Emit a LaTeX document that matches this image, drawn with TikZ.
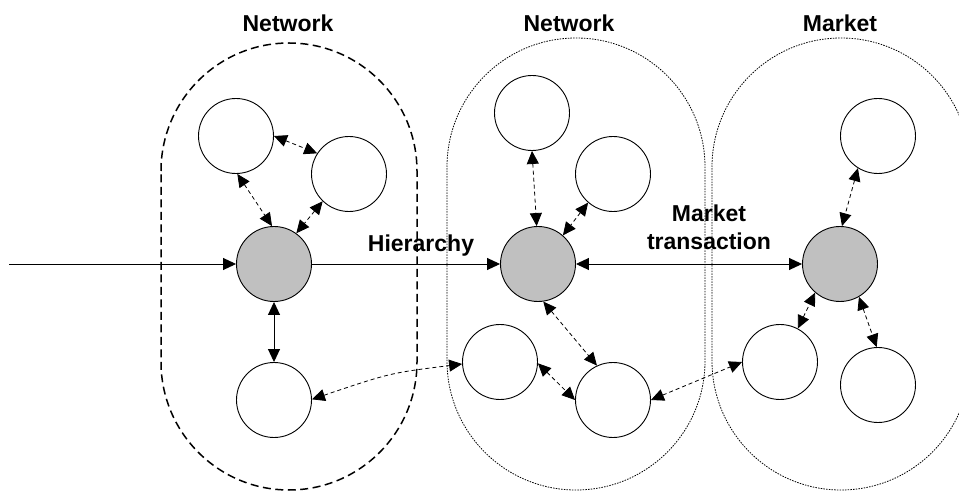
\documentclass[tikz,border=0pt]{standalone}
\usepackage{fontspec}
\setmainfont{Liberation Sans}
\usetikzlibrary{arrows.meta}
\definecolor{hubgray}{RGB}{192,192,192}
\begin{document}
\begin{tikzpicture}[x=1pt,y=-1pt,
  actor/.style={circle, draw, line width=0.9pt, minimum size=75pt, inner sep=0pt, fill=white},
  hub/.style={actor, fill=hubgray},
  link/.style={line width=0.9pt, -{Triangle[length=13pt,width=12pt]}},
  duallink/.style={line width=0.9pt, {Triangle[length=13pt,width=12pt]}-{Triangle[length=13pt,width=12pt]}},
  loose/.style={duallink, line width=0.8pt, dash pattern=on 4pt off 3pt},
  title/.style={font=\fontsize{23}{28}\selectfont\bfseries, align=center, inner sep=0pt, anchor=base},
  firmline/.style={line width=1.5pt, dash pattern=on 8pt off 4.5pt},
  softline/.style={line width=0.8pt, dash pattern=on 1.5pt off 1.2pt}
]
\useasboundingbox (0,0) rectangle (959,494);
\clip (0,0) rectangle (959,494);

% organisational boundaries
\draw[firmline] (161,171) arc[start angle=180, end angle=360, radius=128]
  -- (417,362) arc[start angle=0, end angle=180, radius=128] -- cycle;
\draw[softline] (447,167) arc[start angle=180, end angle=360, radius=129]
  -- (705,361) arc[start angle=0, end angle=180, radius=129] -- cycle;
\draw[softline] (712,167) arc[start angle=180, end angle=360, radius=129]
  -- (970,361) arc[start angle=0, end angle=180, radius=129] -- cycle;

% actors
\node[actor] (A1) at (236,136) {};
\node[actor] (A2) at (349,174) {};
\node[hub]   (Ag) at (274,264) {};
\node[actor] (A3) at (274,400) {};

\node[actor] (B1) at (532,113) {};
\node[actor] (B2) at (613,174) {};
\node[hub]   (Bg) at (538,264) {};
\node[actor] (B3) at (500,362) {};
\node[actor] (B4) at (613,400) {};

\node[actor] (C1) at (878,136) {};
\node[hub]   (Cg) at (840,264) {};
\node[actor] (C2) at (780,362) {};
\node[actor] (C3) at (878,385) {};

\coordinate (src) at (9,264);

% governance relations
\draw[link] (src) -- (Ag);
\draw[link] (Ag) -- (Bg);
\draw[duallink] (Bg) -- (Cg);
\draw[duallink] (Ag) -- (A3);

% informal ties
\draw[loose] (A1.-88) -- (Ag.93);
\draw[loose] (A1.0) -- (A2.147);
\draw[loose] (A2.226) -- (Ag.54);
\draw[loose] (A3.1) .. controls (390,373) .. (B3.183);
\draw[loose] (B1.270) -- (Bg.92);
\draw[loose] (B2.229) -- (Bg.49);
\draw[loose] (Bg.278) -- (B4.115);
\draw[loose] (B3.358) -- (B4.180);
\draw[loose] (B4.0) -- (C2.180);
\draw[loose] (C1.238) -- (Cg.87);
\draw[loose] (C2.62) -- (Cg.229);
\draw[loose] (Cg.300) -- (C3.92);

% labels
\node[title] (tNet1) at (288,32) {Network};
\node[title] (tNet2) at (569,32) {Network};
\node[title] (tMkt)  at (840,32) {Market};
\node[title] (tHier) at (421,252) {Hierarchy};
\node[title] (tTrans) at (709,250) {Market\\transaction};
\end{tikzpicture}
\end{document}
